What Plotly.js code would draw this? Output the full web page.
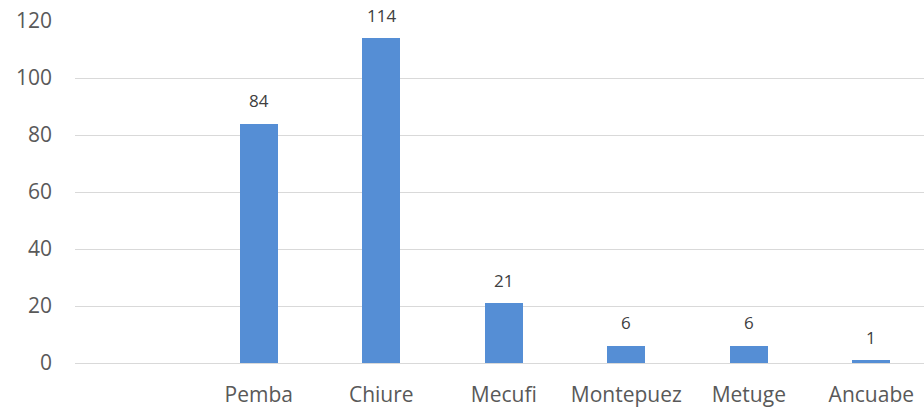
<!DOCTYPE html>
<html>
<head>
<meta charset="utf-8">
<script src="https://cdn.plot.ly/plotly-3.0.1.min.js"></script>
<style>html,body{margin:0;padding:0;background:#fff}#chart{width:924px;height:409px}</style>
</head>
<body>
<div id="chart"></div>
<script>
const categories = ["", "Pemba", "Chiure", "Mecufi", "Montepuez", "Metuge", "Ancuabe"];
const values = [null, 84, 114, 21, 6, 6, 1];
const yTicks = [0, 20, 40, 60, 80, 100, 120];

const positions = categories.map((c, i) => i);
const FONT = "Open Sans, sans-serif";

const trace = {
  type: "bar",
  x: positions,
  y: values,
  width: 0.31,
  marker: {color: "#558ED5"},
  hoverinfo: "skip"
};

const annotations = [];
values.forEach((v, i) => {
  if (v === null) return;
  annotations.push({
    x: positions[i], y: v, xref: "x", yref: "y",
    text: String(v), showarrow: false,
    yanchor: "middle", yshift: 23,
    font: {family: FONT, size: 17, color: "#404040"}
  });
});

const layout = {
  width: 924, height: 409,
  margin: {l: 75, r: 0, t: 21, b: 46, pad: 0},
  paper_bgcolor: "#ffffff",
  plot_bgcolor: "#ffffff",
  showlegend: false,
  bargap: 0,
  xaxis: {
    range: [-0.5, 6.43],
    tickmode: "array",
    tickvals: positions,
    ticktext: categories,
    showgrid: false,
    zeroline: false,
    showline: false,
    ticks: "",
    ticklabelstandoff: 17,
    tickfont: {family: FONT, size: 21, color: "#595959"},
    fixedrange: true
  },
  yaxis: {
    range: [0, 120],
    tickmode: "array",
    tickvals: yTicks,
    ticktext: yTicks.map(String),
    showgrid: true,
    gridcolor: "#D9D9D9",
    gridwidth: 1,
    zeroline: true,
    zerolinecolor: "#D9D9D9",
    zerolinewidth: 1,
    showline: false,
    ticks: "",
    ticklabelstandoff: 22,
    tickfont: {family: FONT, size: 21, color: "#595959"},
    fixedrange: true
  },
  annotations: annotations
};

Plotly.newPlot("chart", [trace], layout, {staticPlot: true, displayModeBar: false});
</script>
</body>
</html>
